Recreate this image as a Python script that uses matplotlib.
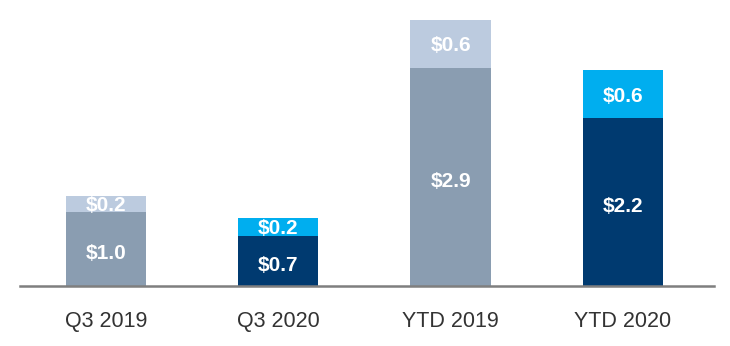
import matplotlib
matplotlib.use("Agg")
import matplotlib.pyplot as plt
import numpy as np

plt.rcParams["font.family"] = ["Liberation Sans", "DejaVu Sans"]

categories = ["Q3 2019", "Q3 2020", "YTD 2019", "YTD 2020"]
base_vals = [0.99, 0.67, 2.91, 2.24]
top_vals = [0.21, 0.24, 0.64, 0.64]
base_labels = ["$1.0", "$0.7", "$2.9", "$2.2"]
top_labels = ["$0.2", "$0.2", "$0.6", "$0.6"]

base_colors = ["#8A9DB1", "#003A70", "#8A9DB1", "#003A70"]
top_colors = ["#BCCBDF", "#00AEEF", "#BCCBDF", "#00AEEF"]

fig = plt.figure(figsize=(7.3, 3.46), dpi=100)
ax = fig.add_axes([20 / 730, 60 / 346, 694 / 730, 276 / 346])

x = np.arange(len(categories))
w = 0.465
ax.bar(x, base_vals, width=w, color=base_colors, zorder=2)
ax.bar(x, top_vals, width=w, bottom=base_vals, color=top_colors, zorder=2)

# value labels sit a touch below the segment middle, like the original
for i in range(len(categories)):
    ax.annotate(base_labels[i], (x[i], base_vals[i] / 2), xytext=(0, -3.5),
                textcoords="offset points", ha="center", va="center",
                color="white", fontsize=15, fontweight="bold")
    ax.annotate(top_labels[i], (x[i], base_vals[i] + top_vals[i] / 2),
                xytext=(0, -1.5), textcoords="offset points", ha="center",
                va="center", color="white", fontsize=15, fontweight="bold")

ax.set_xlim(-0.5, 3.53)
ax.set_ylim(0, 3.68)
ax.set_xticks(x)
ax.set_xticklabels(categories, fontsize=15.5, color="#333333")
ax.tick_params(axis="x", length=0, pad=18)
ax.set_yticks([])
for s in ["top", "right", "left"]:
    ax.spines[s].set_visible(False)
ax.spines["bottom"].set_color("#7F7F7F")
ax.spines["bottom"].set_linewidth(1.8)
ax.spines["bottom"].set_zorder(3)

fig.savefig("out.png", dpi=100)
